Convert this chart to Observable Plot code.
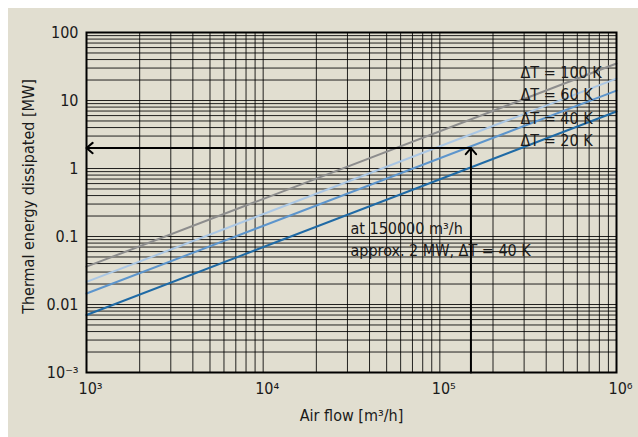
<!DOCTYPE html>
<html><head><meta charset="utf-8">
<script src="https://cdn.jsdelivr.net/npm/d3@7"></script>
<script src="https://cdn.jsdelivr.net/npm/@observablehq/plot@0.6"></script>
<style>
html,body{margin:0;padding:0;background:#fff;}
#wrap{position:absolute;left:8px;top:8px;width:630px;height:429px;background:#e1ded0;}
</style></head><body><div id="wrap"></div>
<script>
// ---- data ----
const flowDomain = [1e3, 1e6];
const powerDomain = [1e-3, 100];
const seriesNames = ["ΔT = 20 K", "ΔT = 40 K", "ΔT = 60 K", "ΔT = 100 K"];
const seriesColors = ["#1f6aa5", "#5d95cc", "#abc7e4", "#8d8d8d"];
const flowEnds = [1000, 1000000];
const power20 = [0.007, 6.9];
const power40 = [0.0145, 14];
const power60 = [0.0215, 21];
const power100 = [0.036, 35];
const xTickValues = [1e3, 1e4, 1e5, 1e6];
const xTickLabels = ["10³", "10⁴", "10⁵", "10⁶"];
const yTickValues = [100, 10, 1, 0.1, 0.01, 0.001];
const yTickLabels = ["100", "10", "1", "0.1", "0.01", "10⁻³"];
const exampleFlow = 150000;
const examplePower = 2;
const noteLines = ["at 150000 m³/h", "approx. 2 MW, ΔT = 40 K"];
const xTitle = "Air flow [m³/h]";
const yTitle = "Thermal energy dissipated [MW]";

const seriesPowers = [power20, power40, power60, power100];
const rows = [];
seriesNames.forEach((s, i) => flowEnds.forEach((f, j) => rows.push({series: s, flow: f, power: seriesPowers[i][j]})));
const arrows = [
  {x1: exampleFlow, y1: examplePower, x2: flowDomain[0], y2: examplePower},
  {x1: exampleFlow, y1: powerDomain[0], x2: exampleFlow, y2: examplePower}
];
const xGrid = d3.scaleLog().domain(flowDomain).ticks();
const yGrid = d3.scaleLog().domain(powerDomain).ticks();

const font = "'DejaVu Sans Condensed', 'Liberation Sans', sans-serif";
const labelY = [2.58, 5.4, 11.9, 25.8];
const noteY = [0.131, 0.0622];

const chart = Plot.plot({
  width: 630, height: 429,
  marginLeft: 78, marginRight: 22, marginTop: 24, marginBottom: 65,
  x: {type: "log", domain: flowDomain, axis: null},
  y: {type: "log", domain: powerDomain, axis: null},
  color: {domain: seriesNames, range: seriesColors},
  style: {background: "transparent", fontFamily: font, fontSize: "16px", color: "#1a1a1a", overflow: "visible"},
  marks: [
    Plot.ruleX(xGrid, {x: d => d, stroke: "#000", strokeOpacity: 0.85, strokeWidth: 1}),
    Plot.ruleY(yGrid, {y: d => d, stroke: "#000", strokeOpacity: 0.85, strokeWidth: 1}),
    Plot.line(rows, {x: "flow", y: "power", z: "series", stroke: "series", strokeWidth: 2}),
    Plot.arrow(arrows, {x1: "x1", y1: "y1", x2: "x2", y2: "y2", stroke: "#000", strokeWidth: 2, headLength: 6, headAngle: 80}),
    Plot.text(seriesNames, {x: () => 2.86e5, y: (d, i) => labelY[i], text: d => d, textAnchor: "start", fill: "#1a1a1a", ariaLabel: "boxed"}),
    Plot.text(noteLines, {x: () => 31200, y: (d, i) => noteY[i], text: d => d, textAnchor: "start", fill: "#1a1a1a", ariaLabel: "boxed"}),
    Plot.frame({stroke: "#000", strokeWidth: 2}),
    Plot.text(xTickValues, {x: d => d, text: (d, i) => xTickLabels[i], frameAnchor: "bottom", dy: 21, dx: 4, fill: "#1a1a1a"}),
    Plot.text(yTickValues, {y: d => d, text: (d, i) => yTickLabels[i], frameAnchor: "left", textAnchor: "end", dx: -8, fill: "#1a1a1a"}),
    Plot.text([xTitle], {frameAnchor: "bottom", textAnchor: "middle", dy: 48, fill: "#1a1a1a"}),
    Plot.text([yTitle], {frameAnchor: "left", textAnchor: "middle", rotate: -90, dx: -58, dy: -6, fill: "#1a1a1a"})
  ]
});
document.getElementById("wrap").appendChild(chart);

// semi-transparent boxes behind the annotation texts
chart.querySelectorAll('g[aria-label="boxed"] text').forEach(t => {
  const b = t.getBBox();
  const r = document.createElementNS("http://www.w3.org/2000/svg", "rect");
  r.setAttribute("x", b.x - 3);
  r.setAttribute("y", b.y + 1);
  r.setAttribute("width", b.width + 6);
  r.setAttribute("height", b.height);
  r.setAttribute("fill", "#e1ded0");
  r.setAttribute("fill-opacity", "0.7");
  const tr = t.getAttribute("transform");
  if (tr) r.setAttribute("transform", tr);
  t.parentNode.insertBefore(r, t);
});
</script></body></html>
